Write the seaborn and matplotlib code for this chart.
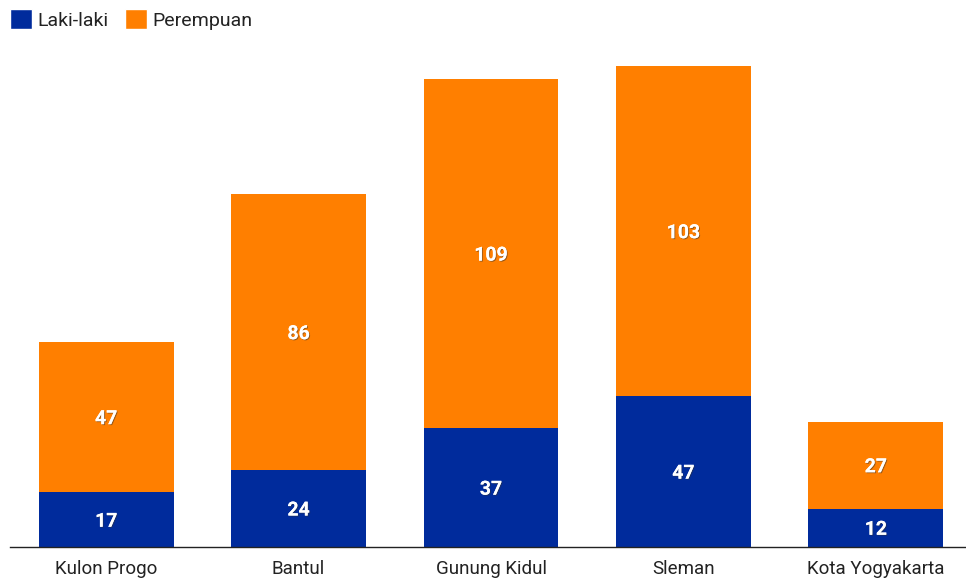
import matplotlib
matplotlib.use("Agg")
import matplotlib.pyplot as plt
import matplotlib.patheffects as pe
from matplotlib.patches import Patch
import seaborn as sns
import pandas as pd

categories = ["Kulon Progo", "Bantul", "Gunung Kidul", "Sleman", "Kota Yogyakarta"]
laki = [17, 24, 37, 47, 12]
perempuan = [47, 86, 109, 103, 27]

BLUE = "#002b9c"
ORANGE = "#ff7f00"

sns.set_theme(style="white")
plt.rcParams['font.family'] = ['Roboto', 'DejaVu Sans']

df = pd.DataFrame({"kab": categories, "laki": laki, "perempuan": perempuan})
df["total"] = df["laki"] + df["perempuan"]

fig = plt.figure(figsize=(9.66, 5.78), dpi=100)
ax = fig.add_axes([10/966, (578-547)/578, 962/966, 513/578])

sns.barplot(data=df, x="kab", y="total", color=ORANGE, width=0.7, saturation=1, ax=ax, linewidth=0)
sns.barplot(data=df, x="kab", y="laki", color=BLUE, width=0.7, saturation=1, ax=ax, linewidth=0)

ax.set_xlim(-0.5, 4.5)
ax.set_ylim(0, 160)
ax.set_xlabel("")
ax.set_ylabel("")
ax.set_yticks([])
for s in ["top", "right", "left"]:
    ax.spines[s].set_visible(False)
ax.spines["bottom"].set_color("#222222")
ax.spines["bottom"].set_linewidth(1.0)
ax.tick_params(axis="x", length=0, pad=9, labelsize=13.5, labelcolor="#222222")

shadow = [pe.withSimplePatchShadow(offset=(0.7, -0.7), shadow_rgbFace="#333333", alpha=0.5), pe.Normal()]
for i, (l, p) in enumerate(zip(laki, perempuan)):
    ax.annotate(str(l), (i, l / 2), xytext=(0, -2), textcoords="offset pixels",
                ha="center", va="center", color="white",
                fontsize=14, fontweight="bold", path_effects=shadow)
    ax.annotate(str(p), (i, l + p / 2), xytext=(0, -2), textcoords="offset pixels",
                ha="center", va="center", color="white",
                fontsize=14, fontweight="bold", path_effects=shadow)

handles = [Patch(facecolor=BLUE, label="Laki-laki"), Patch(facecolor=ORANGE, label="Perempuan")]
fig.legend(handles=handles, loc="upper left", bbox_to_anchor=(10/966, 1 - 9/578), ncol=2, frameon=False,
           fontsize=14, handlelength=1.13, handleheight=1.2, handletextpad=0.3, columnspacing=0.82,
           borderpad=0, borderaxespad=0, labelcolor="#222222")

fig.savefig("out.png", dpi=100)
